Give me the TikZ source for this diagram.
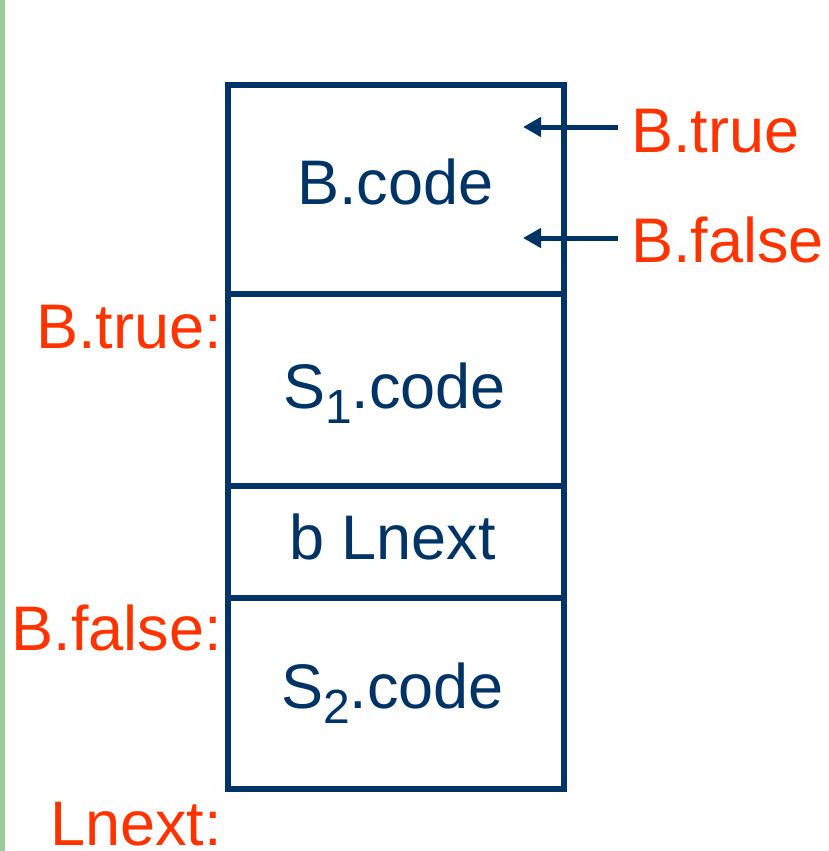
\documentclass[tikz,border=0pt]{standalone}
\usepackage{fontspec}
\setmainfont{Liberation Sans}
\usetikzlibrary{arrows.meta}
\definecolor{codeblue}{HTML}{003366}
\definecolor{labelred}{HTML}{FF3300}
\definecolor{railgreen}{HTML}{9CCC9C}
\newcommand{\subdigit}[1]{{\fontsize{48}{48}\selectfont\raisebox{-15pt}{#1}}}
\tikzset{
  codetext/.style={text=codeblue, inner sep=0pt, font=\fontsize{63}{63}\selectfont},
  labeltext/.style={text=labelred, inner sep=0pt, font=\fontsize{63}{63}\selectfont},
  blockline/.style={draw=codeblue, line width=6pt},
  jumparrow/.style={draw=codeblue, line width=5pt, -{Triangle[length=18pt,width=19pt]}},
}
\begin{document}
\begin{tikzpicture}[x=1pt,y=-1pt]
  \useasboundingbox (0,0) rectangle (828,851);
  % left margin rule
  \fill[railgreen] (0,0) rectangle (5,851);

  % code layout block and its sections
  \draw[blockline] (228,85) rectangle (564,789);
  \draw[blockline] (228,294) -- (564,294);
  \draw[blockline] (228,486) -- (564,486);
  \draw[blockline] (228,598) -- (564,598);

  % section contents
  \node[codetext, anchor=base west] (bcode) at (297,204) {B.code};
  \node[codetext, anchor=base west] (s1code) at (283,408) {S\subdigit{1}.code};
  \node[codetext, anchor=base west] (goto) at (289,559) {b Lnext};
  \node[codetext, anchor=base west] (s2code) at (281,708) {S\subdigit{2}.code};

  % labels at section starts
  \node[labeltext, anchor=base east] (ltrue) at (222,348) {B.true:};
  \node[labeltext, anchor=base east] (lfalse) at (222,650) {B.false:};
  \node[labeltext, anchor=base east] (lnext) at (222,845) {Lnext:};

  % jump targets left open inside B.code
  \node[labeltext, anchor=base west] (jtrue) at (631,152) {B.true};
  \node[labeltext, anchor=base west] (jfalse) at (631,262) {B.false};
  \coordinate (jtrueStart) at (618,127);
  \coordinate (jtrueEnd) at (523,127);
  \coordinate (jfalseStart) at (618,238);
  \coordinate (jfalseEnd) at (523,238);
  \draw[jumparrow] (jtrueStart) -- (jtrueEnd);
  \draw[jumparrow] (jfalseStart) -- (jfalseEnd);
\end{tikzpicture}
\end{document}
